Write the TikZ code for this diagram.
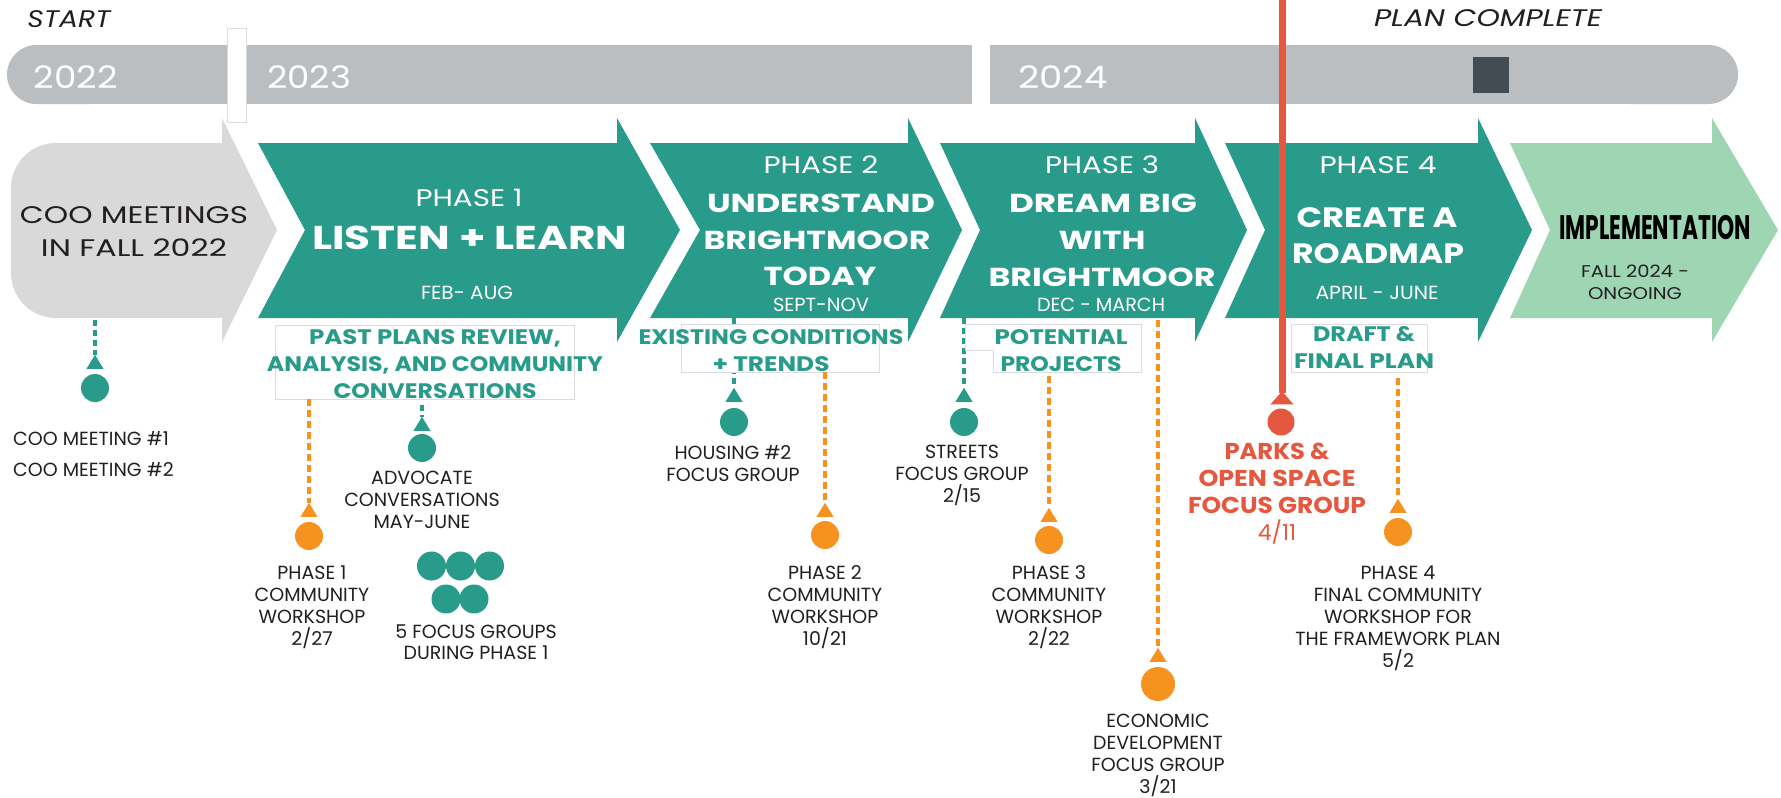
\documentclass[tikz,border=0pt]{standalone}
\usepackage{fontspec}
\setmainfont{Poppins}
\usepackage{graphicx}
\usetikzlibrary{arrows.meta}
\definecolor{tealc}{RGB}{40,155,138}
\definecolor{greenc}{RGB}{158,214,180}
\definecolor{grayarr}{RGB}{217,217,217}
\definecolor{barc}{RGB}{187,190,192}
\definecolor{sqc}{RGB}{67,76,82}
\definecolor{orangec}{RGB}{245,146,32}
\definecolor{redc}{RGB}{229,87,62}
\definecolor{darkt}{RGB}{35,31,32}
\definecolor{boxline}{RGB}{220,220,220}
\newcommand{\fw}[2]{\resizebox{#1pt}{\height}{#2}}
\begin{document}
\begin{tikzpicture}[x=1pt,y=-1pt,
  txt/.style={inner sep=0pt, align=center},
  small/.style={txt, text=darkt, font=\fontsize{19}{22}\selectfont, anchor=north},
  glabel/.style={txt, text=tealc, font=\bfseries\fontsize{21}{27}\selectfont, anchor=north},
  hreg/.style={txt, text=white, font=\fontsize{24}{24}\selectfont},
  hbig/.style={txt, text=white, font=\bfseries\fontsize{33}{33}\selectfont},
  hmid/.style={txt, text=white, font=\bfseries\fontsize{26}{26}\selectfont},
  hdate/.style={txt, text=white, font=\fontsize{19}{19}\selectfont},
  yr/.style={txt, text=white, font=\fontsize{31}{31}\selectfont},
  dot/.style={circle, fill=#1, inner sep=0pt, minimum size=28pt},
  tdash/.style={draw=tealc, line width=3.5pt, dash pattern=on 6pt off 4pt},
  odash/.style={draw=orangec, line width=3.5pt, dash pattern=on 7pt off 4pt},
  lbox/.style={fill=white, draw=boxline, line width=0.8pt}
]
\useasboundingbox (0,0) rectangle (1781,798);
\fill[white] (0,0) rectangle (1781,798);

% ---- top bar ----
\fill[barc, rounded corners=29.5pt] (7,45) rectangle (120,104);
\fill[barc] (60,45) rectangle (972,104);
\fill[barc] (990,45) rectangle (1680,104);
\fill[barc, rounded corners=29.5pt] (1600,45) rectangle (1738,104);
\fill[sqc] (1473,57) rectangle (1509,93);

% ---- arrows ----
\fill[grayarr] (222,143) [rounded corners=45pt] -- (11,143) -- (11,318) [sharp corners] -- (222,318) -- (222,342) -- (277,230) -- (222,118) -- cycle;
\fill[tealc] (258,143) -- (617,143) -- (617,118) -- (680,230) -- (617,342) -- (617,318) -- (258,318) -- (305,230) -- cycle;
\fill[tealc] (650,143) -- (908,143) -- (908,118) -- (962,230) -- (908,342) -- (908,318) -- (650,318) -- (700,230) -- cycle;
\fill[tealc] (940,143) -- (1195,143) -- (1195,118) -- (1247,230) -- (1195,342) -- (1195,318) -- (940,318) -- (980,230) -- cycle;
\fill[tealc] (1225,143) -- (1478,143) -- (1478,118) -- (1532,230) -- (1478,342) -- (1478,318) -- (1225,318) -- (1265,230) -- cycle;
\fill[greenc] (1510,143) -- (1712,143) -- (1712,118) -- (1778,230) -- (1712,342) -- (1712,318) -- (1510,318) -- (1550,230) -- cycle;

% divider
\filldraw[fill=white, draw=boxline, line width=0.8pt] (227,28) rectangle (246,122);

% ---- top labels ----
\node[txt, text=darkt, font=\itshape\fontsize{24}{24}\selectfont] (start) at (69,19) {\fw{83}{START}};
\node[txt, text=darkt, font=\itshape\fontsize{24}{24}\selectfont] (planc) at (1488,18) {\fw{228}{PLAN COMPLETE}};
\node[yr] (y22) at (76,77) {\fw{84}{2022}};
\node[yr] (y23) at (309,77) {\fw{84}{2023}};
\node[yr] (y24) at (1063,77) {\fw{89}{2024}};

% ---- arrow texts ----
\node[txt, text=darkt, font=\fontsize{24}{33}\selectfont, anchor=north] (coo) at (134,206.6) {\fw{228}{COO MEETINGS}\\\fw{186}{IN FALL 2022}};

\node[hreg] (ph1) at (469,198) {\fw{107}{PHASE 1}};
\node[hbig] (ph1t) at (470,238) {\fw{315}{LISTEN + LEARN}};
\node[hdate] (ph1d) at (467,293) {\fw{92}{FEB- AUG}};

\node[hreg] (ph2) at (821,165) {\fw{115}{PHASE 2}};
\node[hmid] (ph2a) at (821,203) {\fw{228}{UNDERSTAND}};
\node[hmid] (ph2b) at (817,240) {\fw{227}{BRIGHTMOOR}};
\node[hmid] (ph2c) at (820,276) {\fw{113}{TODAY}};
\node[hdate] (ph2d) at (821,305) {\fw{96}{SEPT-NOV}};

\node[hreg] (ph3) at (1102,165) {\fw{114}{PHASE 3}};
\node[hmid] (ph3a) at (1103,203) {\fw{188}{DREAM BIG}};
\node[hmid] (ph3b) at (1102,240) {\fw{87}{WITH}};
\node[hmid] (ph3c) at (1102,277) {\fw{227}{BRIGHTMOOR}};
\node[hdate] (ph3d) at (1101,305) {\fw{128}{DEC - MARCH}};

\node[hreg] (ph4) at (1378,165) {\fw{117}{PHASE 4}};
\node[txt, text=white, font=\bfseries\fontsize{28}{28}\selectfont] (ph4a) at (1377,218) {\fw{161}{CREATE A}};
\node[txt, text=white, font=\bfseries\fontsize{28}{28}\selectfont] (ph4b) at (1378,254) {\fw{172}{ROADMAP}};
\node[hdate] (ph4d) at (1377,293) {\fw{123}{APRIL - JUNE}};

\node[txt, text=black, font=\bfseries\fontsize{34}{34}\selectfont] (impl) at (1655,228) {\fw{192}{IMPLEMENTATION}};
\node[txt, text=darkt, font=\fontsize{17}{22}\selectfont, anchor=north] (impld) at (1635,265) {\fw{108}{FALL 2024 -}\\\fw{94}{ONGOING}};

% ---- markers (circles) ----
\node[dot=tealc] (cCOO) at (95,388) {};
\node[dot=tealc] (cHOU) at (734,422) {};
\node[dot=tealc] (cSTR) at (964,422) {};
\node[dot=tealc] (cADV) at (422,448) {};
\node[dot=orangec] (cP1) at (309,536) {};
\node[dot=orangec] (cP2) at (825,535) {};
\node[dot=orangec] (cP3) at (1049,540) {};
\node[dot=orangec] (cP4) at (1398,532) {};
\node[dot=orangec, minimum size=34pt] (cEC) at (1158,684) {};
\node[dot=redc, minimum size=27pt] (cRED) at (1281,422) {};

% triangle tips above the circles
\coordinate (tCOO) at ([yshift=19pt]cCOO.north);
\coordinate (tHOU) at ([yshift=20pt]cHOU.north);
\coordinate (tSTR) at ([yshift=20pt]cSTR.north);
\coordinate (tADV) at ([yshift=17pt]cADV.north);
\coordinate (tP1) at ([yshift=19pt]cP1.north);
\coordinate (tP2) at ([yshift=18pt]cP2.north);
\coordinate (tP3) at ([yshift=18pt]cP3.north);
\coordinate (tP4) at ([yshift=19pt]cP4.north);
\coordinate (tEC) at ([yshift=19pt]cEC.north);
\coordinate (tRED) at ([yshift=17pt,xshift=1pt]cRED.north);

% ---- connectors behind the boxes ----
\coordinate (sCOO) at (95,320);
\coordinate (sHOU) at (734,318);
\coordinate (sSTR) at (964,318);
\coordinate (sEC) at (1158,320);
\draw[tdash] (sCOO) -- (tCOO);
\draw[tdash] (sHOU) -- (tHOU);
\draw[tdash] (sSTR) -- (tSTR);
\draw[odash] (sEC) -- (tEC);

% ---- label boxes ----
\draw[lbox] (275,325) rectangle (574,399);
\draw[lbox] (681,324) rectangle (879,372);
\draw[lbox] (965,324) -- (1141,324) -- (1141,372) -- (993,372) -- (993,350) -- (965,350) -- cycle;
\draw[lbox] (1291,324) rectangle (1427,372);

\node[glabel] (gP1) at (435,329.5) {\fw{252}{PAST PLANS REVIEW,}\\\fw{336}{ANALYSIS, AND COMMUNITY}\\\fw{203}{CONVERSATIONS}};
\node[glabel] (gP2) at (771,329.5) {\fw{265}{EXISTING CONDITIONS}\\\fw{117}{+ TRENDS}};
\node[glabel] (gP3) at (1061,329.5) {\fw{133}{POTENTIAL}\\\fw{121}{PROJECTS}};
\node[glabel] (gP4) at (1364,326.5) {\fw{102}{DRAFT \&}\\\fw{140}{FINAL PLAN}};

% connectors from boxes
\coordinate (sP1) at (309,399);
\coordinate (sP2) at (825,372);
\coordinate (sP3) at (1049,376);
\coordinate (sP4) at (1398,378);
\coordinate (sADV) at (422,405);
\draw[odash] (sP1) -- (tP1);
\draw[odash] (sP2) -- (tP2);
\draw[odash] (sP3) -- (tP3);
\draw[odash] (sP4) -- (tP4);
\draw[tdash] (sADV) -- (tADV);

% upward triangles
\foreach \t/\c in {tCOO/tealc, tHOU/tealc, tSTR/tealc, tADV/tealc, tP1/orangec, tP2/orangec, tP3/orangec, tP4/orangec, tEC/orangec}
  \fill[\c] (\t) -- ++(-8.5,14) -- ++(17,0) -- cycle;

% five focus groups
\node[dot=tealc, minimum size=29pt] (f1) at (431.5,566) {};
\node[dot=tealc, minimum size=29pt] (f2) at (460.5,566) {};
\node[dot=tealc, minimum size=29pt] (f3) at (489.5,566) {};
\node[dot=tealc, minimum size=29pt] (f4) at (446,599) {};
\node[dot=tealc, minimum size=29pt] (f5) at (474,599) {};

% red line
\coordinate (sRED) at (1282,0);
\draw[redc, line width=7pt] (sRED) -- ([yshift=-2pt]tRED);
\fill[redc] (tRED) -- ++(-11.5,13) -- ++(23,0) -- cycle;

% ---- lower labels ----
\node[txt, text=darkt, font=\fontsize{19}{31}\selectfont, anchor=north west, align=left] (lCOO) at (13,431.3) {COO MEETING \#1\\COO MEETING \#2};
\node[small] (lP1) at (312,565.3) {PHASE 1\\COMMUNITY\\WORKSHOP\\2/27};
\node[small] (lADV) at (422,471.3) {ADVOCATE\\CONVERSATIONS\\MAY-JUNE};
\node[small, font=\fontsize{19}{21}\selectfont] (lFG) at (476,624.3) {5 FOCUS GROUPS\\DURING PHASE 1};
\node[small] (lHOU) at (733,445.3) {HOUSING \#2\\FOCUS GROUP};
\node[small] (lP2) at (825,565.3) {PHASE 2\\COMMUNITY\\WORKSHOP\\10/21};
\node[small] (lSTR) at (962,445.3) {STREETS\\FOCUS GROUP\\2/15};
\node[small] (lP3) at (1049,565.3) {PHASE 3\\COMMUNITY\\WORKSHOP\\2/22};
\node[small] (lEC) at (1158,714.3) {ECONOMIC\\DEVELOPMENT\\FOCUS GROUP\\3/21};
\node[small] (lP4) at (1398,565.3) {PHASE 4\\FINAL COMMUNITY\\WORKSHOP FOR\\THE FRAMEWORK PLAN\\5/2};
\node[txt, text=redc, font=\bfseries\fontsize{23}{27}\selectfont, anchor=north] (lRED) at (1277,442.8) {\fw{105}{PARKS \&}\\\fw{157}{OPEN SPACE}\\\fw{178}{FOCUS GROUP}\\{\mdseries\fontsize{22}{28}\selectfont 4/11}};
\end{tikzpicture}
\end{document}
